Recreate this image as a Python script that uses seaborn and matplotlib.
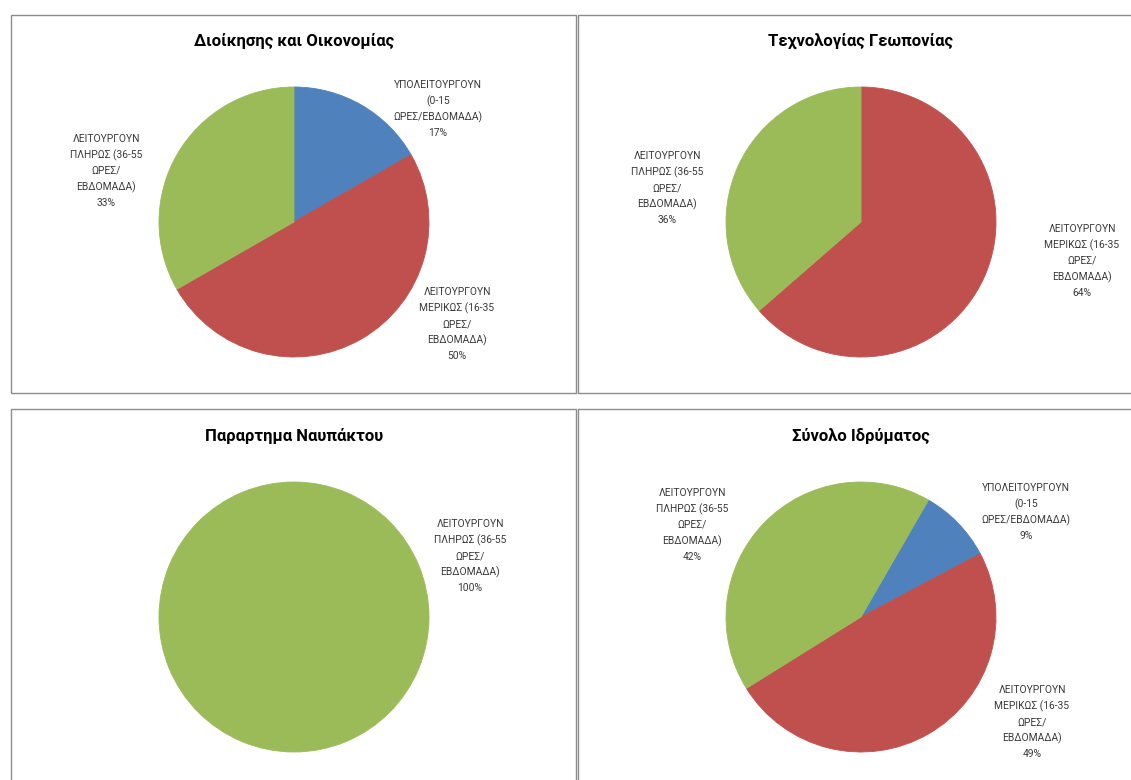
import matplotlib
matplotlib.use("Agg")
import matplotlib.pyplot as plt
from matplotlib.patches import Rectangle
import seaborn as sns

# ---------------- data ----------------
categories = [
    "ΥΠΟΛΕΙΤΟΥΡΓΟΥΝ (0-15 ΩΡΕΣ/ΕΒΔΟΜΑΔΑ)",
    "ΛΕΙΤΟΥΡΓΟΥΝ ΜΕΡΙΚΩΣ (16-35 ΩΡΕΣ/ΕΒΔΟΜΑΔΑ)",
    "ΛΕΙΤΟΥΡΓΟΥΝ ΠΛΗΡΩΣ (36-55 ΩΡΕΣ/ΕΒΔΟΜΑΔΑ)",
]
# wrapped display form of the category names (as in the reference)
category_labels = [
    "ΥΠΟΛΕΙΤΟΥΡΓΟΥΝ\n(0-15\nΩΡΕΣ/ΕΒΔΟΜΑΔΑ)",
    "ΛΕΙΤΟΥΡΓΟΥΝ\nΜΕΡΙΚΩΣ (16-35\nΩΡΕΣ/\nΕΒΔΟΜΑΔΑ)",
    "ΛΕΙΤΟΥΡΓΟΥΝ\nΠΛΗΡΩΣ (36-55\nΩΡΕΣ/\nΕΒΔΟΜΑΔΑ)",
]
titles = [
    "Διοίκησης και Οικονομίας",
    "Τεχνολογίας Γεωπονίας",
    "Παραρτημα Ναυπάκτου",
    "Σύνολο Ιδρύματος",
]
values_dioikisis = [16.7, 50.0, 33.3]
values_geoponias = [0.0, 63.6, 36.4]
values_nafpaktou = [0.0, 0.0, 100.0]
values_synolo = [8.9, 48.9, 42.2]

# ---------------- styling / layout ----------------
sns.set_theme(style="white")
plt.rcParams["font.family"] = ["Roboto", "DejaVu Sans"]
palette = sns.color_palette(["#4F81BD", "#C0504D", "#9BBB59"])

W, H = 1131, 780
fig = plt.figure(figsize=(W / 100, H / 100), dpi=100)
fig.patch.set_facecolor("white")


def fx(px):
    return px / W


def fy(py):
    return 1 - py / H


# panel frames (pixel boxes: left, top, right, bottom)
frames = [(11, 15, 576, 393), (578, 15, 1145, 393),
          (11, 409, 576, 795), (578, 409, 1145, 795)]
for (l, t, r, b) in frames:
    fig.add_artist(Rectangle((fx(l), fy(b)), (r - l) / W, (b - t) / H,
                             transform=fig.transFigure, fill=False,
                             edgecolor="#8c8c8c", linewidth=1.0))

R = 135
panels = [
    dict(values=values_dioikisis, center=(294, 222), title_y=41, start=0,
         label_pos=[(438, 109), (457, 324), (106, 171)]),
    dict(values=values_geoponias, center=(861, 222), title_y=41, start=0,
         label_pos=[None, (1082, 261), (667, 188)]),
    dict(values=values_nafpaktou, center=(294, 617), title_y=436, start=0,
         label_pos=[None, None, (470, 556)]),
    dict(values=values_synolo, center=(861, 617), title_y=436, start=30,
         label_pos=[(1026, 512), (1032, 722), (692, 525)]),
]

for title, p in zip(titles, panels):
    cx, cy = p["center"]
    ax = fig.add_axes([fx(cx - R), fy(cy + R), 2 * R / W, 2 * R / H])
    ax.pie(p["values"], colors=palette, startangle=90 - p["start"],
           counterclock=False, radius=1,
           wedgeprops=dict(linewidth=0.6, edgecolor=None))
    for w in ax.patches:
        w.set_edgecolor(w.get_facecolor())
    ax.set_xlim(-1, 1)
    ax.set_ylim(-1, 1)
    ax.set_aspect("equal")
    ax.axis("off")
    for lab, v, pos in zip(category_labels, p["values"], p["label_pos"]):
        if v <= 0 or pos is None:
            continue
        ax.text((pos[0] - cx) / R, (cy - pos[1]) / R,
                f"{lab}\n{round(v):.0f}%", ha="center", va="center",
                fontsize=7.4, color="#383838", linespacing=1.6,
                clip_on=False)
    fig.text(fx(cx), fy(p["title_y"]), title, ha="center", va="center",
             fontsize=12, fontweight="bold", color="black")

fig.savefig("out.png", dpi=100, facecolor="white")
